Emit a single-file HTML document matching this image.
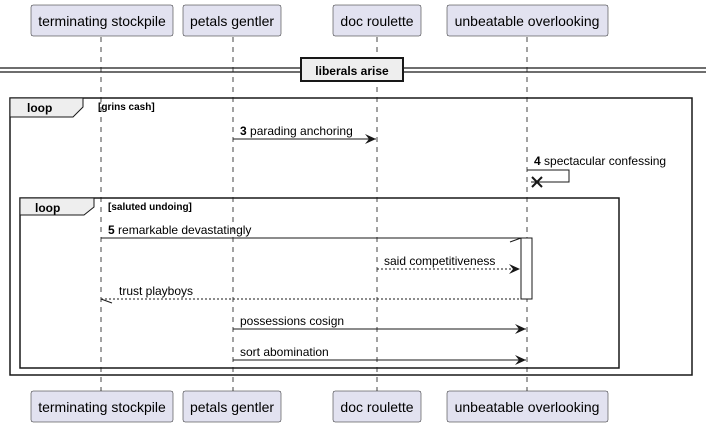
<!DOCTYPE html>
<html><head><meta charset="utf-8"><style>
body{margin:0;background:#fff}
svg{display:block;font-family:"Liberation Sans",sans-serif}
</style></head><body>
<svg width="706" height="427" viewBox="0 0 706 427">
<defs>
<marker id="a" markerWidth="12" markerHeight="10" refX="11" refY="5" orient="auto" markerUnits="userSpaceOnUse"><path d="M0,0 L11,5 L0,10 L4,5 Z" fill="#181818"/></marker>
</defs>
<g stroke="#181818" stroke-width="0.8" stroke-dasharray="5,5">
<line x1="101" y1="37" x2="101" y2="391"/><line x1="233" y1="37" x2="233" y2="391"/>
<line x1="377" y1="37" x2="377" y2="391"/><line x1="527" y1="37" x2="527" y2="391"/>
</g>
<g fill="#e2e2f0" stroke="#181818" stroke-width="0.5">
<rect x="31" y="5" width="142" height="31" rx="2"/><rect x="183" y="5" width="98" height="31" rx="2"/>
<rect x="333" y="5" width="88" height="31" rx="2"/><rect x="447" y="5" width="161" height="31" rx="2"/>
<rect x="31" y="391" width="142" height="31" rx="2"/><rect x="183" y="391" width="98" height="31" rx="2"/>
<rect x="333" y="391" width="88" height="31" rx="2"/><rect x="447" y="391" width="161" height="31" rx="2"/>
</g>
<g font-size="14" fill="#000" text-anchor="middle">
<text x="102" y="26">terminating stockpile</text><text x="232" y="26">petals gentler</text>
<text x="377" y="26">doc roulette</text><text x="527" y="26">unbeatable overlooking</text>
<text x="102" y="412">terminating stockpile</text><text x="232" y="412">petals gentler</text>
<text x="377" y="412">doc roulette</text><text x="527" y="412">unbeatable overlooking</text>
</g>
<line x1="0" y1="68" x2="706" y2="68" stroke="#181818" stroke-width="1.2"/>
<line x1="0" y1="72" x2="706" y2="72" stroke="#181818" stroke-width="1.2"/>
<rect x="301" y="58" width="102" height="23" fill="#eee" stroke="#181818" stroke-width="2"/>
<text x="352" y="75" font-size="12" font-weight="bold" text-anchor="middle">liberals arise</text>
<rect x="10" y="98" width="682" height="277" fill="none" stroke="#181818" stroke-width="1.5"/>
<path d="M10,98 L83,98 L83,107 L73,117 L10,117 Z" fill="#eee" stroke="#181818" stroke-width="1"/>
<text x="27" y="112" font-size="12" font-weight="bold">loop</text>
<text x="98" y="110" font-size="10" font-weight="bold">[grins cash]</text>
<line x1="233" y1="139" x2="376" y2="139" stroke="#181818" marker-end="url(#a)"/>
<text x="240" y="135" font-size="12"><tspan font-weight="bold">3</tspan> parading anchoring</text>
<polyline points="527,170 569,170 569,182 531,182" fill="none" stroke="#181818"/>
<path d="M532,177 L542,187 M542,177 L532,187" stroke="#181818" stroke-width="2"/>
<text x="534" y="165" font-size="12"><tspan font-weight="bold">4</tspan> spectacular confessing</text>
<rect x="20" y="198" width="599" height="170" fill="none" stroke="#181818" stroke-width="1.5"/>
<path d="M20,198 L94,198 L94,207 L84,215 L20,215 Z" fill="#eee" stroke="#181818" stroke-width="1"/>
<text x="35" y="212" font-size="12" font-weight="bold">loop</text>
<text x="108" y="210" font-size="10" font-weight="bold">[saluted undoing]</text>
<rect x="521" y="238" width="11" height="61" fill="#fff" stroke="#181818"/>
<line x1="101" y1="238" x2="521" y2="238" stroke="#181818"/>
<line x1="510" y1="242" x2="521" y2="238" stroke="#181818"/>
<text x="108" y="234" font-size="12"><tspan font-weight="bold">5</tspan> remarkable devastatingly</text>
<line x1="377" y1="269" x2="520" y2="269" stroke="#181818" stroke-dasharray="2,2" marker-end="url(#a)"/>
<text x="384" y="265" font-size="12">said competitiveness</text>
<line x1="101" y1="299" x2="521" y2="299" stroke="#181818" stroke-dasharray="2,2"/>
<line x1="101" y1="299" x2="112" y2="303" stroke="#181818"/>
<text x="119" y="295" font-size="12">trust playboys</text>
<line x1="233" y1="329" x2="526" y2="329" stroke="#181818" marker-end="url(#a)"/>
<text x="240" y="325" font-size="12">possessions cosign</text>
<line x1="233" y1="360" x2="526" y2="360" stroke="#181818" marker-end="url(#a)"/>
<text x="240" y="356" font-size="12">sort abomination</text>
</svg>
</body></html>
